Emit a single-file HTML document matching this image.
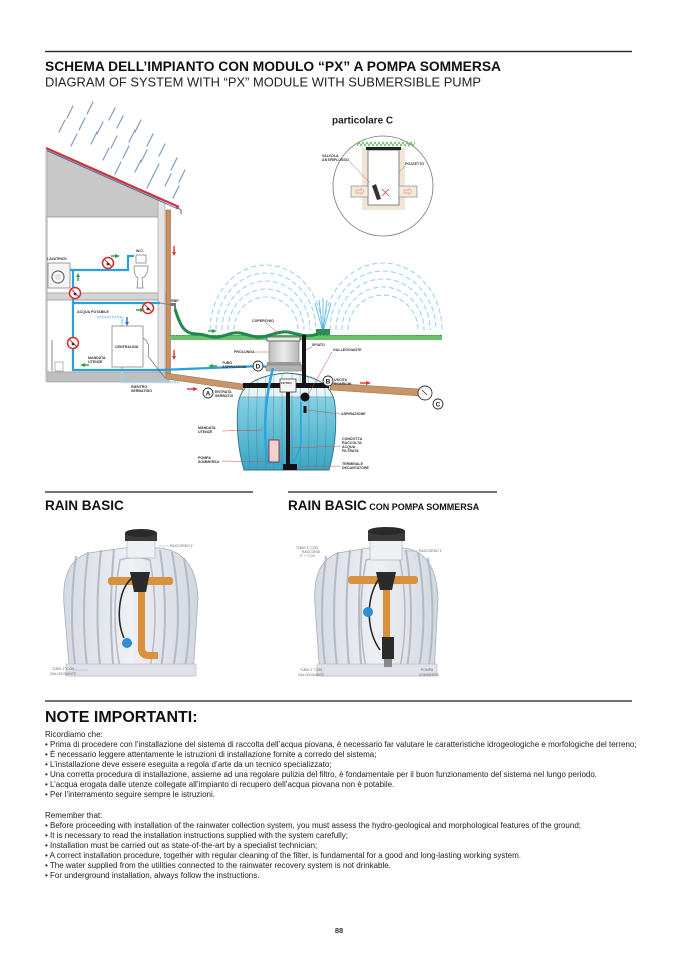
<!DOCTYPE html>
<html><head><meta charset="utf-8">
<style>
html,body{margin:0;padding:0;background:#fff;}
svg{display:block;}
text{font-family:"Liberation Sans",Arial,sans-serif;}
.lb{font-size:3.6px;font-weight:bold;fill:#333;}
.ls{font-size:3.4px;fill:#666;}
.ld{stroke:#c8504a;stroke-width:0.5;fill:none;}
.nt{font-size:8px;fill:#222;}
</style></head>
<body>
<svg width="678" height="959" viewBox="0 0 678 959" xmlns="http://www.w3.org/2000/svg">
<defs>
 <linearGradient id="water" x1="0" y1="0" x2="0" y2="1">
  <stop offset="0" stop-color="#eef8fb"/>
  <stop offset="0.25" stop-color="#e6f4f8"/>
  <stop offset="0.25" stop-color="#86d0e2"/>
  <stop offset="1" stop-color="#3aa6c4"/>
 </linearGradient>
 <linearGradient id="neck" x1="0" y1="0" x2="1" y2="0">
  <stop offset="0" stop-color="#bdbdbd"/>
  <stop offset="0.5" stop-color="#ececec"/>
  <stop offset="1" stop-color="#b5b5b5"/>
 </linearGradient>
 <linearGradient id="tk" x1="0" y1="0" x2="1" y2="0">
  <stop offset="0" stop-color="#d5dae2"/>
  <stop offset="0.5" stop-color="#eef0f4"/>
  <stop offset="1" stop-color="#d2d7df"/>
 </linearGradient>
 <clipPath id="tankclip">
  <path d="M244 470 C238 450 236 425 238 405 C240 385 258 375 287 373 C316 375 333 385 335 405 C337 425 335 450 329 470 Z"/>
 </clipPath>
</defs>

<!-- HEADER -->
<line x1="45" y1="51.5" x2="632" y2="51.5" stroke="#333" stroke-width="1.5"/>
<text x="45" y="71" font-size="14" font-weight="bold" fill="#111" textLength="456" lengthAdjust="spacingAndGlyphs">SCHEMA DELL’IMPIANTO CON MODULO “PX” A POMPA SOMMERSA</text>
<text x="45" y="86.5" font-size="13" fill="#222" textLength="436" lengthAdjust="spacingAndGlyphs">DIAGRAM OF SYSTEM WITH “PX” MODULE WITH SUBMERSIBLE PUMP</text>

<!-- RAIN -->
<g stroke="#7e9cc0" stroke-width="1.2" stroke-linecap="round">
 <line x1="73" y1="106" x2="67" y2="118"/><line x1="93" y1="102" x2="87" y2="114"/><line x1="115" y1="108" x2="109" y2="120"/>
 <line x1="65" y1="120" x2="59" y2="132"/><line x1="85" y1="118" x2="79" y2="130"/><line x1="103" y1="122" x2="97" y2="134"/><line x1="123" y1="116" x2="117" y2="128"/><line x1="141" y1="120" x2="135" y2="132"/>
 <line x1="77" y1="134" x2="71" y2="146"/><line x1="97" y1="132" x2="91" y2="144"/><line x1="117" y1="136" x2="111" y2="148"/><line x1="135" y1="130" x2="129" y2="142"/><line x1="153" y1="134" x2="147" y2="146"/>
 <line x1="109" y1="148" x2="103" y2="160"/><line x1="129" y1="146" x2="123" y2="158"/><line x1="147" y1="150" x2="141" y2="162"/><line x1="165" y1="144" x2="159" y2="156"/>
 <line x1="121" y1="162" x2="115" y2="174"/><line x1="141" y1="160" x2="135" y2="172"/><line x1="159" y1="164" x2="153" y2="176"/><line x1="177" y1="158" x2="171" y2="170"/>
 <line x1="153" y1="176" x2="147" y2="188"/><line x1="171" y1="174" x2="165" y2="186"/><line x1="185" y1="170" x2="179" y2="182"/>
 <line x1="179" y1="186" x2="173" y2="198"/>
</g>

<!-- HOUSE -->
<rect x="45" y="150" width="3" height="232" fill="#d8d8d8"/>
<polygon points="47,150 160,200 160,217 47,217" fill="#c8c8c8" stroke="#9a9a9a" stroke-width="0.6"/>
<rect x="47" y="217" width="113" height="76" fill="#fff" stroke="#9a9a9a" stroke-width="0.8"/>
<rect x="47" y="293" width="120" height="7" fill="#d4d4d4" stroke="#999" stroke-width="0.6"/>
<rect x="47" y="300" width="113" height="72" fill="#fff" stroke="#9a9a9a" stroke-width="0.8"/>
<rect x="158" y="200" width="7" height="182" fill="#e4e4e4" stroke="#9a9a9a" stroke-width="0.6"/>
<rect x="47" y="372" width="122" height="10" fill="#bfbfbf" stroke="#999" stroke-width="0.6"/>
<line x1="46" y1="148" x2="179" y2="207" stroke="#d0343a" stroke-width="2.2"/>
<line x1="47" y1="150.8" x2="178" y2="209" stroke="#3a5fa8" stroke-width="0.8"/>
<!-- downpipe -->
<path d="M176 207 L181 210 L181 214" stroke="#8a5a35" stroke-width="1" fill="none"/>
<rect x="166" y="210" width="4.5" height="168" fill="#c98f5f" stroke="#8a5a35" stroke-width="0.5"/>
<polygon points="166,373 243,384 243,390 166,379" fill="#c8956a" stroke="#8a5a35" stroke-width="0.4"/>

<!-- potable dotted -->
<path d="M97 317 H122 V382 H180" stroke="#9fd2ee" stroke-width="2.5" fill="none" stroke-dasharray="1.5 1"/>
<!-- blue pipes -->
<g stroke="#27a3dc" stroke-width="2.2" fill="none">
 <path d="M70 270 H128 V256 H134"/>
 <path d="M73 270 V370 H160 L262 366 L272 368"/>
 <path d="M73 303 H160"/>
</g>
<line x1="160" y1="303" x2="172" y2="305" stroke="#888" stroke-width="1"/>
<!-- tap -->
<path d="M170 303 h6 v6 h-2 v-3 h-4 z" fill="#777"/>
<!-- washing machine -->
<rect x="48" y="263" width="22" height="25" fill="#f4f4f4" stroke="#777" stroke-width="0.7"/>
<circle cx="58" cy="277" r="6" fill="#fff" stroke="#666" stroke-width="1.2"/>
<circle cx="58" cy="277" r="3.5" fill="#e5e5e5"/>
<!-- WC -->
<rect x="136" y="255" width="10" height="8" fill="#fff" stroke="#777" stroke-width="0.7"/>
<path d="M134 266 H148 Q148 276 142 278 L143 288 H137 L138 278 Q134 276 134 266 Z" fill="#fff" stroke="#777" stroke-width="0.7"/>
<!-- centralina -->
<rect x="112" y="326" width="31" height="41" fill="#fff" stroke="#888" stroke-width="0.8"/>
<path d="M143 338 Q151 342 148 356 L165 378" stroke="#555" stroke-width="0.6" fill="none"/>
<!-- bucket / mop -->
<line x1="52" y1="340" x2="52" y2="371" stroke="#888" stroke-width="1"/>
<rect x="55" y="362" width="8" height="9" fill="#fff" stroke="#888" stroke-width="0.6"/>
<!-- no entry icons -->
<g fill="#fff" stroke="#d42a2a" stroke-width="1.5">
 <circle cx="108" cy="263" r="5.5"/><circle cx="75" cy="293" r="5.5"/><circle cx="148" cy="308" r="5.5"/><circle cx="73" cy="343" r="5.5"/>
</g>
<g stroke="#d42a2a" stroke-width="1">
 <line x1="104" y1="259" x2="112" y2="267"/><line x1="71" y1="289" x2="79" y2="297"/><line x1="144" y1="304" x2="152" y2="312"/><line x1="69" y1="339" x2="77" y2="347"/>
</g>
<g fill="#333"><circle cx="108" cy="264" r="1.4"/><circle cx="75" cy="294" r="1.4"/><circle cx="148" cy="309" r="1.4"/><circle cx="73" cy="344" r="1.4"/></g>
<!-- arrows -->
<g fill="#2e9e4a">
 <polygon points="115,254 120,256 115,258"/><rect x="111" y="255.3" width="4" height="1.4"/>
 <polygon points="78,273 80,277 76,277"/><rect x="77.3" y="277" width="1.4" height="4"/>
 <polygon points="140,308 145,310 140,312"/><rect x="136" y="309.3" width="4" height="1.4"/>
 <polygon points="80,365 85,363 85,367"/><rect x="85" y="364.3" width="4" height="1.4"/>
 <polygon points="212,329 217,331 212,333"/><rect x="208" y="330.3" width="4" height="1.4"/>
 <polygon points="208,366 213,364 213,368"/><rect x="213" y="365.3" width="4" height="1.4"/>
 <polygon points="295,434 297,430 299,434"/><rect x="296.3" y="434" width="1.4" height="4"/>
 <polygon points="296,455 298,451 300,455"/><rect x="297.3" y="455" width="1.4" height="4"/>
</g>
<g fill="#2a6fd0"><polygon points="125,322 129,322 127,326"/><rect x="126.3" y="317" width="1.4" height="5"/></g>
<g fill="#d33">
 <polygon points="172,252 176,252 174,256"/><rect x="173.3" y="246" width="1.4" height="6"/>
 <polygon points="172,356 176,356 174,360"/><rect x="173.3" y="350" width="1.4" height="6"/>
 <polygon points="193,387 198,389 193,391"/><rect x="187" y="388.3" width="6" height="1.4"/>
 <polygon points="366,381 371,383 366,385"/><rect x="360" y="382.3" width="6" height="1.4"/>
</g>

<!-- house labels -->
<text class="lb" x="47" y="260">LAVATRICE</text>
<text class="lb" x="136" y="252">W.C.</text>
<text class="lb" x="77" y="313">ACQUA POTABILE</text>
<text class="lb" x="115" y="348">CENTRALINA</text>
<text class="lb" x="88" y="359">MANDATA</text><text class="lb" x="88" y="363">UTENZE</text>
<text class="lb" x="131" y="388">RIENTRO</text><text class="lb" x="131" y="392">SERBATOIO</text>
<text class="lb" x="171" y="302">RBP</text>

<!-- SPRINKLER ARCS -->
<g fill="none" stroke="#9fd3ea" stroke-width="1.1" stroke-dasharray="5 3">
 <path d="M210 330 A56 65 0 0 1 322 330"/>
 <path d="M216 330 A50 57 0 0 1 316 330"/>
 <path d="M222 330 A44 49 0 0 1 310 330"/>
 <path d="M228 330 A38 41 0 0 1 304 330"/>
 <path d="M234 330 A32 33 0 0 1 298 330"/>
 <path d="M324 330 A59 67 0 0 1 442 330"/>
 <path d="M330 330 A53 59 0 0 1 436 330"/>
 <path d="M336 330 A47 51 0 0 1 430 330"/>
 <path d="M342 330 A41 43 0 0 1 424 330"/>
 <path d="M348 330 A35 35 0 0 1 418 330"/>
</g>
<g stroke="#4fb3e0" stroke-width="0.8">
 <line x1="323" y1="332" x2="315" y2="303"/><line x1="323" y1="332" x2="319" y2="300"/><line x1="323" y1="332" x2="323" y2="298"/><line x1="323" y1="332" x2="327" y2="300"/><line x1="323" y1="332" x2="331" y2="303"/>
</g>
<!-- grass -->
<rect x="170" y="335" width="272" height="5" fill="#6cc06c"/>
<line x1="170" y1="335.5" x2="442" y2="335.5" stroke="#3e9a46" stroke-width="1" stroke-dasharray="1.5 1.5"/>
<rect x="316" y="329" width="14" height="6" fill="#2e8b57"/>
<!-- hose -->
<path d="M175 309 C180 325 184 334 196 334 C206 334 210 338 218 337 C228 335 232 332 240 333 C250 335 255 338 262 337 C272 335 280 331 288 332 C298 334 306 338 318 334" fill="none" stroke="#1f8a4f" stroke-width="3"/>

<!-- TANK -->
<path d="M244 470 C238 450 236 425 238 405 C240 385 258 375 287 373 C316 375 333 385 335 405 C337 425 335 450 329 470 Z" fill="url(#water)"/>
<g clip-path="url(#tankclip)" stroke="#2b7089" stroke-opacity="0.4" stroke-width="0.8" fill="none">
 <path d="M250 378 Q246 425 250 470"/><path d="M258 376 Q255 425 258 470"/><path d="M266 374 Q264 425 266 470"/>
 <path d="M274 373 Q273 425 274 470"/><path d="M282 373 V470"/><path d="M292 373 V470"/><path d="M300 373 Q301 425 300 470"/>
 <path d="M308 374 Q310 425 308 470"/><path d="M316 376 Q319 425 316 470"/><path d="M324 378 Q328 425 324 470"/>
 <path d="M238 397 H336" stroke-opacity="0.7"/>
</g>
<path d="M244 470 C238 450 236 425 238 405 C240 385 258 375 287 373 C316 375 333 385 335 405 C337 425 335 450 329 470 Z" fill="none" stroke="#2b7089" stroke-width="0.9"/>
<!-- neck -->
<rect x="269" y="341" width="30" height="22" fill="url(#neck)" stroke="#777" stroke-width="0.6"/>
<rect x="267" y="362" width="34" height="3" fill="#9a9a9a"/>
<rect x="266" y="365" width="36" height="6" fill="#b3b3b3" stroke="#777" stroke-width="0.5"/>
<rect x="267" y="337" width="33" height="4" fill="#e8e8e8" stroke="#555" stroke-width="0.8"/>
<!-- pipes -->
<rect x="243" y="383" width="86" height="5" fill="#141414"/>
<rect x="302" y="335" width="4" height="52" fill="#141414"/>
<rect x="286" y="388" width="4" height="82" fill="#141414"/>
<path d="M273 368 C266 395 262 430 268 462 L285 466" stroke="#2aa5dd" stroke-width="2.5" fill="none"/>
<path d="M301 402 L301 440 C300 455 292 465 285 468" stroke="#2aa5dd" stroke-width="1.5" fill="none"/>
<rect x="280" y="379" width="16" height="13" fill="#f5f5f5" stroke="#333" stroke-width="0.7"/>
<text class="lb" x="281" y="384" style="font-size:3px">FILTRO</text>
<rect x="269" y="440" width="10" height="22" fill="#f0d0d0" stroke="#8a1b1b" stroke-width="0.8"/>
<circle cx="305" cy="397" r="4.5" fill="#111"/>
<rect x="303.5" y="406" width="3" height="7" fill="#111"/>
<rect x="283" y="464" width="14" height="6" fill="#111"/>
<!-- outlet -->
<polygon points="330,383 420,389 420,396 330,390" fill="#c8956a" stroke="#8a5a35" stroke-width="0.4"/>
<circle cx="425" cy="393" r="7" fill="#fff" stroke="#333" stroke-width="0.9"/>
<line x1="422" y1="390" x2="427" y2="395" stroke="#333" stroke-width="0.8"/>
<!-- letter circles -->
<g fill="#fff" stroke="#333" stroke-width="0.9">
 <circle cx="208" cy="393" r="5"/><circle cx="258" cy="366" r="5"/><circle cx="328" cy="381" r="5"/><circle cx="438" cy="404" r="5"/>
</g>
<g font-size="6.5" font-weight="bold" fill="#222" text-anchor="middle">
 <text x="208" y="395.5">A</text><text x="258" y="368.5">D</text><text x="328" y="383.5">B</text><text x="438" y="406.5">C</text>
</g>
<!-- tank labels + leaders -->
<path class="ld" d="M266 323 L283 337 M255 352 L270 352 M312 347 L306 350 M332 352 L308 395 M340 414 L307 410 M341 446 L291 448 M341 466 L297 467 M222 431 L262 430 M222 461 L269 462"/>
<text class="lb" x="252" y="322">COPERCHIO</text>
<text class="lb" x="234" y="353">PROLUNGA</text>
<text class="lb" x="312" y="346">SFIATO</text>
<text class="lb" x="333" y="351">GALLEGGIANTE</text>
<text class="lb" x="222" y="364">TUBO</text><text class="lb" x="222" y="368">ASPIRAZIONE</text>
<text class="lb" x="215" y="393">ENTRATA</text><text class="lb" x="215" y="397">SERBATOI</text>
<text class="lb" x="334" y="381">USCITA</text><text class="lb" x="334" y="385">SCARICHI</text>
<text class="lb" x="341" y="415">ASPIRAZIONE</text>
<text class="lb" x="342" y="440">CONDOTTA</text><text class="lb" x="342" y="444">RACCOLTA</text><text class="lb" x="342" y="448">ACQUA</text><text class="lb" x="342" y="452">FILTRATA</text>
<text class="lb" x="342" y="465">TERMINALE</text><text class="lb" x="342" y="469">DECANTATORE</text>
<text class="lb" x="198" y="429">MANDATA</text><text class="lb" x="198" y="433">UTENZE</text>
<text class="lb" x="198" y="459">POMPA</text><text class="lb" x="198" y="463">SOMMERSA</text>

<!-- PARTICOLARE C -->
<text x="332" y="123.5" font-size="10" font-weight="bold" fill="#222">particolare C</text>
<circle cx="383" cy="186" r="50" fill="#fff" stroke="#777" stroke-width="0.8"/>
<rect x="362" y="148" width="43" height="62" fill="#efe6d8"/>
<rect x="368" y="150" width="31" height="55" fill="#fff" stroke="#555" stroke-width="0.7"/>
<rect x="366" y="147" width="35" height="3" fill="#222"/>
<path d="M357 146 l2 -4 l2 4 l2 -4 l2 4 l2 -4 l2 4 l2 -4 l2 4 l2 -4 l2 4 l2 -4 l2 4 l2 -4 l2 4 l2 -4 l2 4 l2 -4 l2 4 l2 -4 l2 4 l2 -4 l2 4 l2 -4 l2 4 l2 -4 l2 4 l2 -4 l2 4 l2 -4" fill="none" stroke="#4caf50" stroke-width="0.8"/>
<rect x="351" y="186" width="17" height="11" fill="#f3eadc" stroke="#777" stroke-width="0.6"/>
<rect x="399" y="186" width="18" height="11" fill="#f3eadc" stroke="#777" stroke-width="0.6"/>
<polygon points="356,190 361,190 361,188.5 364,191.5 361,194.5 361,193 356,193" fill="none" stroke="#d66" stroke-width="0.5"/>
<polygon points="404,190 409,190 409,188.5 412,191.5 409,194.5 409,193 404,193" fill="none" stroke="#d66" stroke-width="0.5"/>
<polygon points="372,186 376,184 381,199 377,200" fill="#333"/>
<path d="M382 189 L389 196 M389 189 L382 196" stroke="#d44" stroke-width="0.8"/>
<path class="ld" d="M348 160 L370 183 M405 166 L399 172"/>
<text class="lb" x="322" y="157">VALVOLA</text><text class="lb" x="322" y="161">ANTIRIFLUSSO</text>
<text class="lb" x="405" y="165">POZZETTO</text>

<!-- RAIN BASIC -->
<line x1="45" y1="492" x2="253" y2="492" stroke="#444" stroke-width="1.6"/>
<text x="45" y="510" font-size="13.5" font-weight="bold" fill="#111">RAIN BASIC</text>
<line x1="288" y1="492" x2="497" y2="492" stroke="#444" stroke-width="1.6"/>
<text x="288" y="510" font-size="13.5" font-weight="bold" fill="#111">RAIN BASIC<tspan font-size="9"> CON POMPA SOMMERSA</tspan></text>

<!-- left tank -->
<path d="M70 676 L64 605 Q61 562 88 553 L124 548 L160 548 Q196 552 198 598 L193 676 Z" fill="url(#tk)" stroke="#a8aeb8" stroke-width="0.8"/>
<g stroke="#b3bac5" stroke-width="2" fill="none">
 <path d="M76 556 Q68 615 76 672"/><path d="M88 552 Q80 615 88 674"/><path d="M101 550 Q94 615 101 675"/>
 <path d="M114 549 Q108 615 114 675"/><path d="M160 550 Q170 615 160 675"/><path d="M172 552 Q184 615 172 674"/><path d="M184 558 Q195 615 184 672"/>
 <path d="M120 560 Q135 555 150 560 Q160 615 150 668 Q135 673 120 668 Q110 615 120 560 Z" stroke-width="1.5"/>
</g>
<rect x="66" y="664" width="130" height="12" fill="#dfe3e9" stroke="#b0b6c0" stroke-width="0.6"/>
<rect x="127" y="540" width="28" height="18" fill="#eef0f3" stroke="#aab" stroke-width="0.6"/>
<rect x="125" y="533" width="32" height="8" fill="#3a3a3a"/>
<ellipse cx="141" cy="533" rx="16" ry="4" fill="#2a2a2a"/>
<rect x="108" y="577" width="65" height="8" rx="3" fill="#d9913f"/>
<rect x="138" y="585" width="7" height="66" fill="#d9913f"/>
<path d="M138 648 Q138 659 149 659 L158 659 L158 652 L149 652 Q145 652 145 648 Z" fill="#d9913f"/>
<path d="M130 572 L150 572 L146 592 L134 592 Z" fill="#2b2b2b"/>
<path d="M132 578 C118 590 116 620 124 638" stroke="#222" stroke-width="1.5" fill="none"/>
<circle cx="127" cy="643" r="5" fill="#2a8fd8"/>
<path d="M159 546 L169 546" stroke="#999" stroke-width="0.4"/>
<text class="ls" x="170" y="547">RACCORDO 1"</text>
<path d="M72 670 L88 670" stroke="#999" stroke-width="0.4"/>
<text class="ls" x="52" y="670">TUBO 1" CON</text><text class="ls" x="50" y="675">GALLEGGIANTE</text>

<!-- right tank -->
<path d="M320 676 L315 605 Q312 562 338 553 L368 548 L404 548 Q436 552 438 598 L434 676 Z" fill="url(#tk)" stroke="#a8aeb8" stroke-width="0.8"/>
<g stroke="#b3bac5" stroke-width="2" fill="none">
 <path d="M326 556 Q318 615 326 672"/><path d="M338 552 Q330 615 338 674"/><path d="M350 550 Q343 615 350 675"/>
 <path d="M362 549 Q356 615 362 675"/><path d="M406 550 Q416 615 406 675"/><path d="M418 552 Q429 615 418 674"/><path d="M428 558 Q437 615 428 672"/>
 <path d="M366 560 Q383 555 400 560 Q410 615 400 668 Q383 673 366 668 Q356 615 366 560 Z" stroke-width="1.5"/>
</g>
<rect x="317" y="664" width="120" height="12" fill="#dfe3e9" stroke="#b0b6c0" stroke-width="0.6"/>
<rect x="370" y="540" width="32" height="20" fill="#eef0f3" stroke="#aab" stroke-width="0.6"/>
<rect x="368" y="531" width="37" height="10" fill="#3a3a3a"/>
<ellipse cx="386.5" cy="531" rx="18.5" ry="4" fill="#2a2a2a"/>
<rect x="348" y="576" width="70" height="8" rx="3" fill="#d9913f"/>
<rect x="383" y="584" width="7" height="54" fill="#d9913f"/>
<path d="M376 572 L396 572 L392 590 L380 590 Z" fill="#2b2b2b"/>
<rect x="382" y="637" width="12" height="22" fill="#2b2b2b"/>
<rect x="384" y="659" width="8" height="8" fill="#888"/>
<path d="M378 580 C366 600 366 630 380 650" stroke="#222" stroke-width="1.5" fill="none"/>
<circle cx="368" cy="612" r="5" fill="#2a8fd8"/>
<text class="ls" x="296" y="549">TUBO 1" CON</text><text class="ls" x="302" y="553">RACCORDI</text><text class="ls" x="300" y="557">2" + 1"1/4</text>
<path d="M404 551 L418 551" stroke="#999" stroke-width="0.4"/>
<text class="ls" x="419" y="552">RACCORDO 1"</text>
<text class="ls" x="300" y="671">TUBO 2" CON</text><text class="ls" x="298" y="676">GALLEGGIANTE</text>
<text class="ls" x="421" y="671">POMPA</text><text class="ls" x="419" y="676">SOMMERSA</text>

<!-- NOTES -->
<line x1="45" y1="701" x2="632" y2="701" stroke="#444" stroke-width="1.6"/>
<text x="45" y="722" font-size="16" font-weight="bold" fill="#111">NOTE IMPORTANTI:</text>
<text class="nt" x="45" y="737">Ricordiamo che:</text>
<text class="nt" x="45" y="747">• Prima di procedere con l’installazione del sistema di raccolta dell’acqua piovana, è necessario far valutare le caratteristiche idrogeologiche e morfologiche del terreno;</text>
<text class="nt" x="45" y="757">• È necessario leggere attentamente le istruzioni di installazione fornite a corredo del sistema;</text>
<text class="nt" x="45" y="767">• L’installazione deve essere eseguita a regola d’arte da un tecnico specializzato;</text>
<text class="nt" x="45" y="777">• Una corretta procedura di installazione, assieme ad una regolare pulizia del filtro, è fondamentale per il buon funzionamento del sistema nel lungo periodo.</text>
<text class="nt" x="45" y="787">• L’acqua erogata dalle utenze collegate all’impianto di recupero dell’acqua piovana non è potabile.</text>
<text class="nt" x="45" y="797">• Per l’interramento seguire sempre le istruzioni.</text>
<text class="nt" x="45" y="818">Remember that:</text>
<text class="nt" x="45" y="828">• Before proceeding with installation of the rainwater collection system, you must assess the hydro-geological and morphological features of the ground;</text>
<text class="nt" x="45" y="838">• It is necessary to read the installation instructions supplied with the system carefully;</text>
<text class="nt" x="45" y="848">• Installation must be carried out as state-of-the-art by a specialist technician;</text>
<text class="nt" x="45" y="858">• A correct installation procedure, together with regular cleaning of the filter, is fundamental for a good and long-lasting working system.</text>
<text class="nt" x="45" y="868">• The water supplied from the utilities connected to the rainwater recovery system is not drinkable.</text>
<text class="nt" x="45" y="878">• For underground installation, always follow the instructions.</text>

<text x="339" y="933" font-size="7.5" font-weight="bold" fill="#333" text-anchor="middle">88</text>
</svg>
</body></html>
